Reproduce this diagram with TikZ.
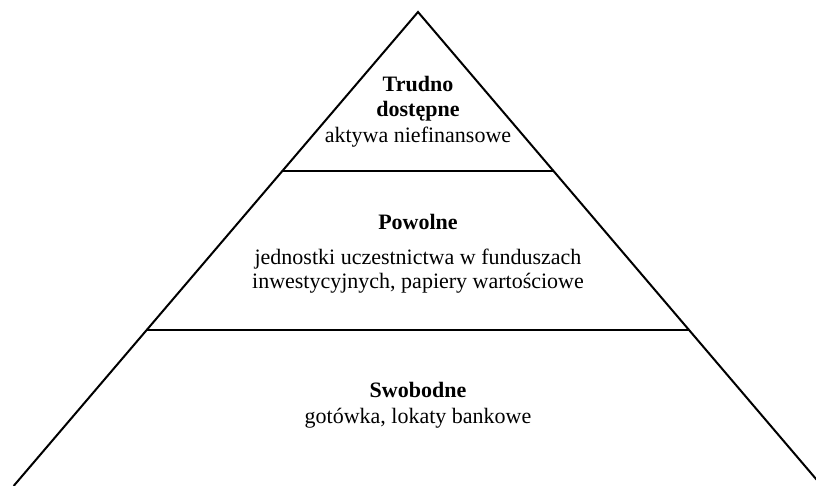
\documentclass[tikz,border=0pt]{standalone}
\usepackage{fontspec}
\setmainfont{Liberation Serif}
\begin{document}
\begin{tikzpicture}[x=1pt,y=-1pt,
  edge/.style={line width=2pt, line join=miter},
  lbl/.style={anchor=base, font=\fontsize{22}{26}\selectfont, inner sep=0pt},
  head/.style={lbl, font=\fontsize{22}{26}\selectfont\bfseries}]
\useasboundingbox (0,0) rectangle (816,486);
\begin{scope}
\clip (0,0) rectangle (816,486);
\coordinate (apex) at (418,12);
\coordinate (bl) at (13.6,486);
\coordinate (br) at (822,486);
\coordinate (l1) at (282.4,171);
\coordinate (r1) at (553.6,171);
\coordinate (l2) at (146.7,330);
\coordinate (r2) at (689,330);
\draw[edge] (bl) -- (apex) -- (br);
\draw[edge] (l1) -- (r1);
\draw[edge] (l2) -- (r2);
\end{scope}
\node[head] (t1) at (418,92) {Trudno};
\node[head] (t2) at (418,117) {dostępne};
\node[lbl] (t3) at (418,143) {aktywa niefinansowe};
\node[head] (m1) at (418,230) {Powolne};
\node[lbl] (m2) at (418,265) {jednostki uczestnictwa w funduszach};
\node[lbl] (m3) at (418,288) {inwestycyjnych, papiery wartościowe};
\node[head] (b1) at (418,397) {Swobodne};
\node[lbl] (b2) at (418,423) {gotówka, lokaty bankowe};
\end{tikzpicture}
\end{document}
